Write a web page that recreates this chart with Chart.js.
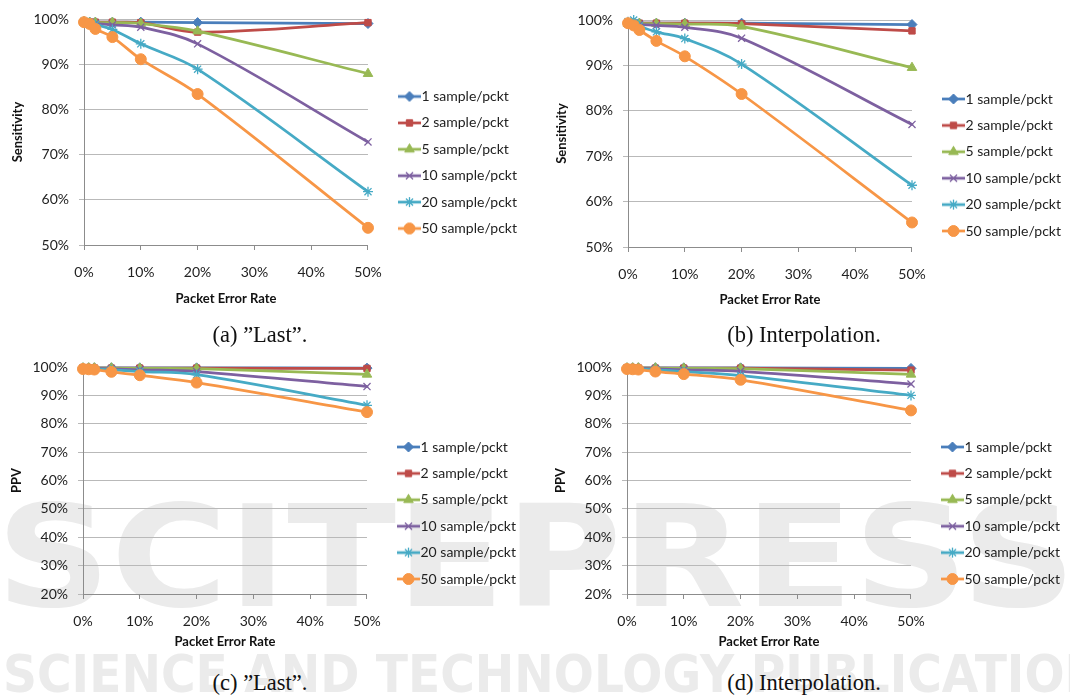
<!DOCTYPE html>
<html>
<head>
<meta charset="utf-8">
<script src="https://cdn.jsdelivr.net/npm/chart.js@4.4.0/dist/chart.umd.min.js"></script>
<style>
body { margin: 0; background: #fff; width: 1070px; height: 700px; position: relative; overflow: hidden; }
.wm { position: absolute; left: 0; top: 0; }
canvas { position: absolute; }
.cap { position: absolute; font-family: "Liberation Serif", "DejaVu Serif", serif; font-size: 22.5px; color: #111; transform: translate(-50%, -50%); white-space: nowrap; }
</style>
</head>
<body>
<svg class="wm" width="1070" height="700">
  <text x="-4" y="606" textLength="1080" lengthAdjust="spacingAndGlyphs" font-family="DejaVu Sans" font-weight="bold" font-size="140" fill="#ebebeb">SCITEPRESS</text>
  <text x="3" y="692" textLength="1135" lengthAdjust="spacingAndGlyphs" font-family="DejaVu Sans" font-weight="bold" font-size="52" fill="#ebebeb">SCIENCE AND TECHNOLOGY PUBLICATIONS</text>
</svg>
<canvas id="chartA"></canvas>
<canvas id="chartB"></canvas>
<canvas id="chartC"></canvas>
<canvas id="chartD"></canvas>
<div class="cap" style="left:260px; top:335px;">(a) ”Last”.</div>
<div class="cap" style="left:804px; top:335px;">(b) Interpolation.</div>
<div class="cap" style="left:260px; top:683px;">(c) ”Last”.</div>
<div class="cap" style="left:804px; top:683px;">(d) Interpolation.</div>
<script>
Chart.defaults.font.family = 'Lato, "Open Sans", sans-serif';
Chart.defaults.color = '#222';

// packet error rate in %
var errorRate = [0, 1, 2, 5, 10, 20, 50];
var seriesNames = ['1 sample/pckt', '2 sample/pckt', '5 sample/pckt', '10 sample/pckt', '20 sample/pckt', '50 sample/pckt'];
var seriesColors = ['#4A7EBB', '#BE4B48', '#98B954', '#7D60A0', '#46AAC5', '#F79646'];
var markerStyles = ['rectRot', 'rect', 'triangle', 'crossRot', 'star', 'circle'];
var markerSizes = [5, 4.5, 5.5, 5, 5, 5.5];
var xTicks = [0, 10, 20, 30, 40, 50];

// (a) sensitivity, "Last"
var sensLast = [
  [99.3, 99.3, 99.3, 99.3, 99.3, 99.2, 99.0],
  [99.2, 99.3, 99.3, 99.3, 99.2, 97.1, 99.2],
  [99.3, 99.2, 99.2, 99.2, 99.0, 97.3, 87.9],
  [99.3, 99.1, 99.0, 98.7, 98.2, 94.5, 72.8],
  [99.5, 99.2, 98.8, 97.7, 94.5, 88.9, 61.8],
  [99.3, 98.9, 97.8, 96.0, 91.1, 83.4, 53.8]
];
// (b) sensitivity, interpolation
var sensInterp = [
  [99.3, 99.3, 99.3, 99.3, 99.3, 99.3, 99.0],
  [99.2, 99.3, 99.3, 99.3, 99.3, 99.2, 97.6],
  [99.2, 99.2, 99.2, 99.2, 99.1, 98.6, 89.5],
  [99.2, 99.1, 99.0, 98.8, 98.4, 96.0, 77.0],
  [99.6, 100.0, 98.7, 97.4, 95.9, 90.3, 63.6],
  [99.3, 98.8, 97.8, 95.4, 92.0, 83.7, 55.4]
];
// (c) PPV, "Last"
var ppvLast = [
  [99.7, 99.7, 99.7, 99.7, 99.7, 99.7, 99.6],
  [99.6, 99.6, 99.6, 99.6, 99.6, 99.6, 99.5],
  [99.6, 99.6, 99.6, 99.6, 99.5, 99.4, 97.4],
  [99.6, 99.6, 99.5, 99.3, 99.0, 98.4, 93.1],
  [99.5, 99.4, 99.3, 99.0, 98.4, 97.3, 86.5],
  [99.3, 99.2, 99.1, 98.3, 97.1, 94.5, 84.1]
];
// (d) PPV, interpolation
var ppvInterp = [
  [99.7, 99.7, 99.7, 99.7, 99.7, 99.7, 99.5],
  [99.6, 99.6, 99.6, 99.6, 99.6, 99.6, 98.9],
  [99.6, 99.6, 99.6, 99.6, 99.5, 99.4, 97.4],
  [99.6, 99.6, 99.5, 99.3, 99.0, 98.5, 94.0],
  [99.5, 99.4, 99.3, 99.0, 98.4, 97.0, 90.0],
  [99.3, 99.2, 99.1, 98.4, 97.5, 95.5, 84.7]
];

function drawMarker(g, i, x, y) {
  g.fillStyle = seriesColors[i];
  g.strokeStyle = seriesColors[i];
  g.lineWidth = (markerStyles[i] == 'crossRot' || markerStyles[i] == 'star') ? 1.3 : 1;
  if (Chart.helpers && Chart.helpers.drawPoint) {
    Chart.helpers.drawPoint(g, {pointStyle: markerStyles[i], radius: markerSizes[i], rotation: 0, borderWidth: g.lineWidth}, x, y);
  } else {
    g.beginPath(); g.arc(x, y, markerSizes[i], 0, Math.PI * 2); g.fill();
  }
}

// little line + marker picture for the legend
function legendIcon(i) {
  var c = document.createElement('canvas');
  c.width = 23; c.height = 14;
  var g = c.getContext('2d');
  g.strokeStyle = seriesColors[i];
  g.lineWidth = 2.75;
  g.beginPath(); g.moveTo(0, 7); g.lineTo(23, 7); g.stroke();
  drawMarker(g, i, 11.5, 7);
  return c;
}
var icons = seriesNames.map(function(n, i) { return legendIcon(i); });

var measure = document.createElement('canvas').getContext('2d');
measure.font = '14px Lato';
var maxText = Math.max.apply(null, seriesNames.map(function(n) { return measure.measureText(n).width; }));

// chart.js caps a side legend at a fraction of the canvas width, let it take what it needs
var wideLegend = {
  id: 'wideLegend',
  beforeLayout: function(chart) {
    var lg = chart.legend;
    if (lg && !lg._wide) {
      var up = lg.update;
      lg.update = function(mw, mh, m) { return up.call(this, 400, mh, m); };
      lg._wide = true;
    }
  }
};

function drawPanel(id, left, plotTop, plotBottom, titleY, tickY, legendMid, yTitle, yMin, rows) {
  var top = plotTop - 40;
  var h = Math.round(2 * legendMid - top - plotTop);
  var xH = h - (plotBottom - top);
  var titlePad = h - 7.8 - (titleY - top);
  var tickPad = tickY - plotBottom - 5 - 8.4;
  var legendPad = 12.4;
  var legendW = legendPad + 10 + 7 + maxText + 10;
  var y2W = 30 + 6.5 - legendPad;
  var w = Math.round(84 + 284 + y2W + legendW);

  var canvas = document.getElementById(id);
  canvas.width = w; canvas.height = h;
  canvas.style.left = left + 'px';
  canvas.style.top = top + 'px';

  var datasets = rows.map(function(vals, i) {
    return {
      label: seriesNames[i],
      data: errorRate.map(function(x, j) { return {x: x, y: vals[j]}; }),
      borderColor: seriesColors[i],
      backgroundColor: seriesColors[i],
      borderWidth: 2.75,
      borderJoinStyle: 'round',
      borderCapStyle: 'round',
      tension: 0.35,
      pointStyle: markerStyles[i],
      pointRadius: markerSizes[i],
      pointBorderWidth: (markerStyles[i] == 'crossRot' || markerStyles[i] == 'star') ? 1.3 : 1,
      pointBackgroundColor: seriesColors[i],
      pointBorderColor: seriesColors[i],
      clip: false,
      order: 6 - i
    };
  });

  new Chart(canvas, {
    type: 'line',
    data: {datasets: datasets},
    plugins: [wideLegend],
    options: {
      responsive: false,
      animation: false,
      layout: {padding: {left: 0, top: 40, right: 0, bottom: 0}},
      scales: {
        x: {
          type: 'linear',
          min: 0, max: 50,
          afterBuildTicks: function(s) { s.ticks = xTicks.map(function(v) { return {value: v}; }); },
          afterFit: function(s) { s.height = xH; },
          ticks: {padding: tickPad, font: {size: 14}, color: '#222', callback: function(v) { return v + '%'; }},
          grid: {drawOnChartArea: false, drawTicks: true, tickLength: 5, color: '#8c8c8c'},
          border: {color: '#8c8c8c', width: 1},
          title: {display: true, text: 'Packet Error Rate', font: {size: 13, weight: 'bold'}, color: '#111', padding: {top: 0, bottom: titlePad}}
        },
        y: {
          min: yMin, max: 100,
          afterFit: function(s) { s.width = 84; },
          ticks: {stepSize: 10, padding: 10, font: {size: 14}, color: '#222', callback: function(v) { return v + '%'; }},
          grid: {color: '#b9b9b9', tickLength: 5, lineWidth: 1},
          border: {color: '#8c8c8c', width: 1},
          title: {display: true, text: yTitle, font: {size: 13, weight: 'bold'}, color: '#111', padding: {top: 10.2, bottom: 0}}
        },
        y2: {
          position: 'right',
          afterFit: function(s) { s.width = y2W; },
          ticks: {display: false},
          grid: {display: false},
          border: {display: false}
        }
      },
      plugins: {
        tooltip: {enabled: false},
        legend: {
          position: 'right',
          align: 'center',
          labels: {
            usePointStyle: true,
            pointStyleWidth: 10,
            padding: legendPad,
            font: {size: 14},
            color: '#222',
            generateLabels: function(chart) {
              return chart.data.datasets.map(function(ds, i) {
                return {text: ds.label, pointStyle: icons[i], datasetIndex: i, hidden: false,
                        fillStyle: seriesColors[i], strokeStyle: seriesColors[i], lineWidth: 0, fontColor: '#222'};
              });
            }
          }
        }
      }
    }
  });
}

drawPanel('chartA', 0, 19, 245, 299, 272, 162.5, 'Sensitivity', 50, sensLast);
drawPanel('chartB', 544, 20, 247, 300, 274, 165, 'Sensitivity', 50, sensInterp);
drawPanel('chartC', -1, 367, 594, 642, 621, 513, 'PPV', 20, ppvLast);
drawPanel('chartD', 543, 367, 594, 642, 621, 513, 'PPV', 20, ppvInterp);
</script>
</body>
</html>
